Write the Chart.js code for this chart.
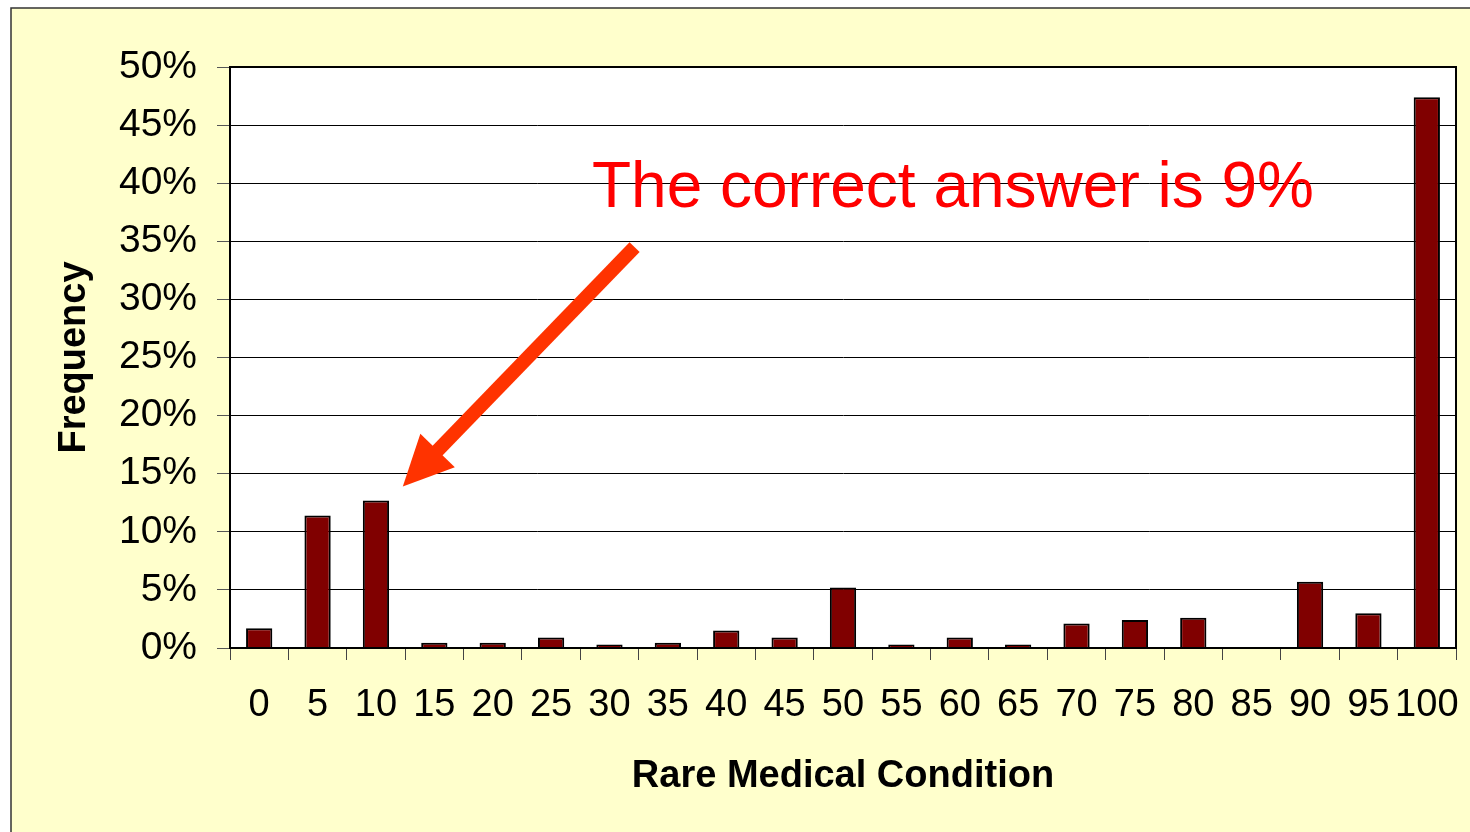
<!DOCTYPE html>
<html>
<head>
<meta charset="utf-8">
<script src="https://cdn.jsdelivr.net/npm/chart.js@4/dist/chart.umd.min.js"></script>
<style>
  html, body { margin: 0; padding: 0; background: #fff; }
  canvas { display: block; }
</style>
</head>
<body>
<canvas id="conditionChart" width="1470" height="832"></canvas>
<script>
// Answers given for the rare medical condition question
const categories = ["0", "5", "10", "15", "20", "25", "30", "35", "40", "45", "50",
                    "55", "60", "65", "70", "75", "80", "85", "90", "95", "100"];
const frequency = [1.7, 11.4, 12.7, 0.45, 0.45, 0.9, 0.3, 0.45, 1.5, 0.9, 5.2,
                   0.3, 0.9, 0.3, 2.1, 2.4, 2.6, 0, 5.7, 3.0, 47.4];
const yTicks = [0, 5, 10, 15, 20, 25, 30, 35, 40, 45, 50];
const noteText = "The correct answer is 9%";

const FONT = "'Liberation Sans', Arial, sans-serif";

// yellow slide background + white plot area + box around the plot
const backdrop = {
    id: 'backdrop',
    beforeDraw(chart) {
        const ctx = chart.ctx;
        const a = chart.chartArea;
        ctx.save();
        ctx.fillStyle = '#ffffff';
        ctx.fillRect(0, 0, chart.width, chart.height);
        ctx.fillStyle = '#ffffcc';
        ctx.fillRect(11, 8, chart.width, chart.height);
        ctx.strokeStyle = '#333';
        ctx.lineWidth = 1.5;
        ctx.strokeRect(11, 8, chart.width + 10, chart.height + 10);
        ctx.fillStyle = '#ffffff';
        ctx.fillRect(a.left, a.top, a.right - a.left, a.bottom - a.top);
        ctx.restore();
    },
    afterDraw(chart) {
        const ctx = chart.ctx;
        const a = chart.chartArea;
        ctx.save();
        ctx.strokeStyle = '#000';
        ctx.lineWidth = 2;
        ctx.strokeRect(a.left, a.top, a.right - a.left, a.bottom - a.top);
        ctx.restore();
    }
};

// red note and arrow pointing at the 10 bar
const note = {
    id: 'note',
    afterDraw(chart) {
        const ctx = chart.ctx;
        const x = chart.scales.x, y = chart.scales.y;
        const step = x.getPixelForValue(1) - x.getPixelForValue(0);
        const px = i => x.getPixelForValue(0) + i * step;

        ctx.save();
        ctx.fillStyle = '#ff0000';
        ctx.font = '64px ' + FONT;
        ctx.textBaseline = 'alphabetic';
        ctx.fillText(noteText, px(5.7), y.getPixelForValue(37.95));

        const tx = px(2.46), ty = y.getPixelForValue(13.9);
        const sx = px(6.43), sy = y.getPixelForValue(34.5);
        const ang = Math.atan2(ty - sy, tx - sx);
        const headLen = 50, headW = 24;
        const bx = tx - headLen * Math.cos(ang), by = ty - headLen * Math.sin(ang);

        ctx.strokeStyle = '#ff3300';
        ctx.lineWidth = 14;
        ctx.lineCap = 'butt';
        ctx.beginPath();
        ctx.moveTo(sx, sy);
        ctx.lineTo(bx + 2 * Math.cos(ang), by + 2 * Math.sin(ang));
        ctx.stroke();

        ctx.fillStyle = '#ff3300';
        ctx.beginPath();
        ctx.moveTo(tx, ty);
        ctx.lineTo(bx + headW * Math.sin(ang), by - headW * Math.cos(ang));
        ctx.lineTo(bx - headW * Math.sin(ang), by + headW * Math.cos(ang));
        ctx.closePath();
        ctx.fill();
        ctx.restore();
    }
};

new Chart(document.getElementById('conditionChart'), {
    type: 'bar',
    data: {
        labels: categories,
        datasets: [{
            label: 'Frequency',
            data: frequency,
            backgroundColor: '#800000',
            borderColor: '#000000',
            borderWidth: 2,
            categoryPercentage: 1,
            barPercentage: 0.45
        }]
    },
    options: {
        responsive: false,
        animation: false,
        devicePixelRatio: 1,
        layout: { padding: { top: 67, right: 14, left: 0, bottom: 0 } },
        plugins: {
            legend: { display: false },
            tooltip: { enabled: false }
        },
        scales: {
            x: {
                afterFit: s => {
                    s.height = 184;
                    s.paddingLeft = 0;
                    s.paddingRight = 0;
                },
                grid: {
                    offset: true,
                    drawOnChartArea: false,
                    drawTicks: true,
                    tickLength: 12,
                    color: '#444'
                },
                border: { color: '#000', width: 2 },
                ticks: {
                    autoSkip: false,
                    maxRotation: 0,
                    minRotation: 0,
                    padding: 23,
                    color: '#000',
                    font: { family: FONT, size: 38 }
                },
                title: {
                    display: true,
                    text: 'Rare Medical Condition',
                    color: '#000',
                    font: { family: FONT, size: 38, weight: 'bold' },
                    padding: { top: 0, bottom: 33 }
                }
            },
            y: {
                min: 0,
                max: 50,
                afterFit: s => { s.width = 230; },
                afterBuildTicks: s => { s.ticks = yTicks.map(v => ({ value: v })); },
                grid: {
                    color: '#000',
                    lineWidth: 1,
                    tickLength: 13,
                    tickColor: '#555'
                },
                border: { color: '#000', width: 2 },
                ticks: {
                    padding: 20,
                    color: '#000',
                    font: { family: FONT, size: 39 },
                    callback: v => v + '%'
                },
                title: {
                    display: true,
                    text: 'Frequency',
                    color: '#000',
                    font: { family: FONT, size: 38, weight: 'bold' },
                    padding: { top: 52, bottom: 0 }
                }
            }
        }
    },
    plugins: [backdrop, note]
});
</script>
</body>
</html>
